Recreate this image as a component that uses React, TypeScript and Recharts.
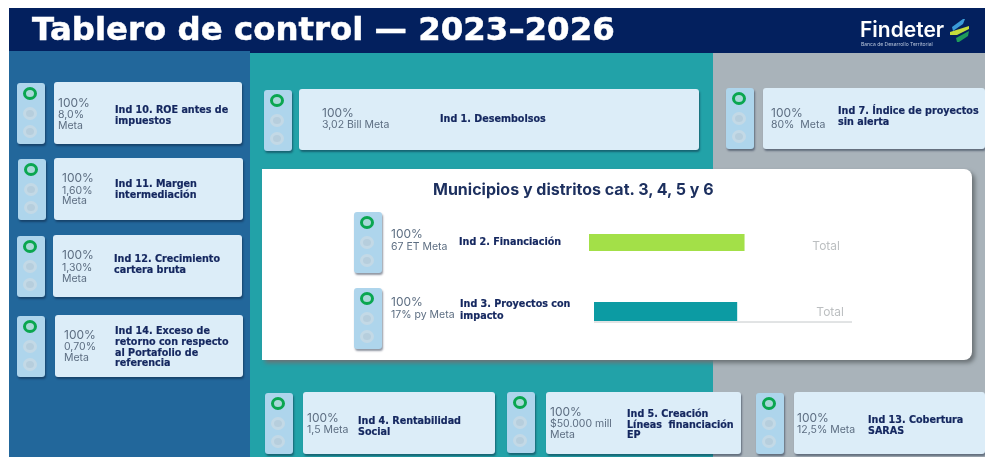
import { BarChart, Bar, XAxis, YAxis } from 'recharts';

const TITLE = 'Tablero de control — 2023–2026';
const PANEL_TITLE = 'Municipios y distritos cat. 3, 4, 5 y 6';

const NAVY = '#03205e';
const INK = '#14275f';
const MUTED = '#5d6e82';
const RING = '#0aa650';
const BOLD_FONT = '"DejaVu Sans"';

// bar values (share of the Total axis)
const barCategories = ['Total'];
const financiacionValues = [61];
const proyectosValues = [55.5];
const AXIS_MAX = 100;

const financiacionData = barCategories.map((name, i) => ({ name, value: financiacionValues[i] }));
const proyectosData = barCategories.map((name, i) => ({ name, value: proyectosValues[i] }));

// text of each indicator
const ind10 = { meta: ['8,0%', 'Meta'], name: ['Ind 10. ROE antes de', 'impuestos'] };
const ind11 = { meta: ['1,60%', 'Meta'], name: ['Ind 11. Margen', 'intermediación'] };
const ind12 = { meta: ['1,30%', 'Meta'], name: ['Ind 12. Crecimiento', 'cartera bruta'] };
const ind14 = {
  meta: ['0,70%', 'Meta'],
  name: ['Ind 14. Exceso de', 'retorno con respecto', 'al Portafolio de', 'referencia'],
};
const ind1 = { meta: ['3,02 Bill Meta'], name: ['Ind 1. Desembolsos'] };
const ind7 = { meta: ['80%  Meta'], name: ['Ind 7. Índice de proyectos', 'sin alerta'] };
const ind2 = { meta: ['67 ET Meta'], name: ['Ind 2. Financiación'] };
const ind3 = { meta: ['17% py Meta'], name: ['Ind 3. Proyectos con', 'impacto'] };
const ind4 = { meta: ['1,5 Meta'], name: ['Ind 4. Rentabilidad', 'Social'] };
const ind5 = { meta: ['$50.000 mill', 'Meta'], name: ['Ind 5. Creación', 'Líneas  financiación', 'EP'] };
const ind13 = { meta: ['12,5% Meta'], name: ['Ind 13. Cobertura', 'SARAS'] };

function Txt({ x, y, size, color, weight, font = 'Inter', stroke = 0, children }: any) {
  const h = Math.ceil(size * 1.05);
  return (
    <div
      style={{
        position: 'absolute',
        left: x,
        top: y - h / 2,
        height: h,
        lineHeight: `${h}px`,
        fontSize: size,
        color,
        fontWeight: weight,
        whiteSpace: 'pre',
        fontFamily: font,
        WebkitTextStroke: stroke ? `${stroke}px ${color}` : undefined,
      }}
    >
      {children}
    </div>
  );
}

function Box({ x, y, w, h, bg, r = 3 }: any) {
  return (
    <div
      style={{
        position: 'absolute',
        left: x,
        top: y,
        width: w,
        height: h,
        background: bg,
        borderRadius: r,
        boxShadow: '1px 2px 2px rgba(10,25,50,0.45)',
      }}
    />
  );
}

function Lights({ x, y }: any) {
  const dots = [10, 30, 48];
  return (
    <>
      <Box x={x} y={y} w={28} h={61} bg="#aed5ec" />
      {dots.map((d, i) => (
        <div
          key={i}
          style={{
            position: 'absolute',
            left: x + 6,
            top: y + d - 6,
            width: 14,
            height: 13,
            boxSizing: 'border-box',
            borderRadius: '50%',
            border: i === 0 ? `3px solid ${RING}` : '3px solid #c3d9e6',
            background: i === 0 ? '#a8d8d8' : '#b6cedd',
          }}
        />
      ))}
    </>
  );
}

// pctY / metaY / nameY are the vertical centres of the lines
function MetaText({ ind, x, pctY, metaY, nameX, nameY }: any) {
  return (
    <>
      <Txt x={x} y={pctY - 1} size={12} color={MUTED} weight={400}>100%</Txt>
      {ind.meta.map((t: string, i: number) => (
        <Txt key={t} x={x} y={metaY[i]} size={10.5} color={MUTED} weight={400}>{t}</Txt>
      ))}
      {ind.name.map((t: string, i: number) => (
        <Txt key={t} x={nameX} y={nameY[i]} size={9.6} color={INK} weight={700} font={BOLD_FONT} stroke={0.2}>{t}</Txt>
      ))}
    </>
  );
}

function Logo() {
  return (
    <>
      <Txt x={860} y={29.5} size={21} color="#ffffff" weight={600}>Findeter</Txt>
      <Txt x={861} y={43.5} size={5} color="#b9c6dc" weight={400}>Banca de Desarrollo Territorial</Txt>
      <svg style={{ position: 'absolute', left: 949, top: 18 }} width={22} height={25}>
        <polygon points="3,9 14,1 16,1 14,6 4,13" fill="#3b9bd8" />
        <polygon points="1,14 20,8 20,11 8,17 1,17" fill="#c5dc3c" />
        <polygon points="7,20 20,13 19,18 10,24 8,24" fill="#1f9a5a" />
      </svg>
    </>
  );
}

export default function App() {
  return (
    <div
      style={{
        position: 'absolute',
        left: 0,
        top: 0,
        width: 985,
        height: 457,
        overflow: 'hidden',
        background: '#ffffff',
        filter: 'blur(0.35px)',
      }}
    >
      {/* background bands */}
      <div style={{ position: 'absolute', left: 9, top: 8, width: 976, height: 45, background: NAVY }} />
      <div style={{ position: 'absolute', left: 9, top: 51, width: 241, height: 406, background: '#22679b' }} />
      <div style={{ position: 'absolute', left: 250, top: 53, width: 463, height: 404, background: '#22a2a8' }} />
      <div style={{ position: 'absolute', left: 713, top: 53, width: 272, height: 404, background: '#a9b3ba' }} />
      <Txt x={32} y={29} size={32.4} color="#ffffff" weight={700} font={BOLD_FONT} stroke={0.5}>{TITLE}</Txt>
      <Logo />

      {/* left column */}
      <Lights x={17} y={83} />
      <Box x={54} y={82} w={188} h={62} bg="#dcedf8" />
      <MetaText ind={ind10} x={58} pctY={103} metaY={[115, 126]} nameX={115} nameY={[109, 120]} />

      <Lights x={18} y={159} />
      <Box x={54} y={158} w={189} h={62} bg="#dcedf8" />
      <MetaText ind={ind11} x={62} pctY={178} metaY={[191, 201]} nameX={115} nameY={[183, 194]} />

      <Lights x={17} y={236} />
      <Box x={53} y={235} w={189} h={62} bg="#dcedf8" />
      <MetaText ind={ind12} x={62} pctY={255} metaY={[268, 279]} nameX={114} nameY={[258, 269]} />

      <Lights x={17} y={316} />
      <Box x={55} y={315} w={188} h={62} bg="#dcedf8" />
      <MetaText ind={ind14} x={64} pctY={335} metaY={[347, 358]} nameX={115} nameY={[330, 341, 352, 362]} />

      {/* top row */}
      <Lights x={264} y={90} />
      <Box x={299} y={89} w={400} h={61} bg="#dcedf8" />
      <MetaText ind={ind1} x={322} pctY={113} metaY={[125]} nameX={440} nameY={[118]} />

      <Lights x={726} y={88} />
      <Box x={763} y={88} w={222} h={61} bg="#dcedf8" />
      <MetaText ind={ind7} x={771} pctY={113} metaY={[125]} nameX={838} nameY={[110, 121]} />

      {/* white panel */}
      <div
        style={{
          position: 'absolute',
          left: 262,
          top: 169,
          width: 710,
          height: 191,
          background: '#ffffff',
          borderRadius: '0 8px 8px 0',
          boxShadow: '3px 3px 4px #6b7276',
        }}
      />
      <Txt x={433} y={189} size={16} color="#1c2f5e" weight={700}>{PANEL_TITLE}</Txt>

      <Lights x={354} y={212} />
      <MetaText ind={ind2} x={391} pctY={234} metaY={[247]} nameX={459} nameY={[241]} />
      <div style={{ position: 'absolute', left: 589, top: 233 }}>
        <BarChart
          width={255}
          height={19}
          layout="vertical"
          data={financiacionData}
          margin={{ top: 0, right: 0, bottom: 0, left: 0 }}
        >
          <XAxis type="number" domain={[0, AXIS_MAX]} hide />
          <YAxis
            type="category"
            dataKey="name"
            orientation="right"
            mirror
            axisLine={false}
            tickLine={false}
            tickSize={0}
            tickMargin={4}
            tick={{ fontSize: 12, fill: '#bcbfc1', fontFamily: 'Inter', dy: 3 }}
          />
          <Bar dataKey="value" fill="#a3e048" barSize={19} isAnimationActive={false} />
        </BarChart>
      </div>

      <Lights x={354} y={288} />
      <MetaText ind={ind3} x={391} pctY={302} metaY={[315]} nameX={460} nameY={[303, 315]} />
      <div style={{ position: 'absolute', left: 594, top: 301 }}>
        <BarChart
          width={258}
          height={22}
          layout="vertical"
          data={proyectosData}
          margin={{ top: 0, right: 0, bottom: 0, left: 0 }}
        >
          <XAxis
            type="number"
            domain={[0, AXIS_MAX]}
            height={1}
            tick={false}
            tickLine={false}
            axisLine={{ stroke: '#c4c8ca' }}
          />
          <YAxis
            type="category"
            dataKey="name"
            orientation="right"
            mirror
            axisLine={false}
            tickLine={false}
            tickSize={0}
            tickMargin={8}
            tick={{ fontSize: 12, fill: '#bcbfc1', fontFamily: 'Inter' }}
          />
          <Bar dataKey="value" fill="#0c9ba3" barSize={21} isAnimationActive={false} />
        </BarChart>
      </div>

      {/* bottom row */}
      <Lights x={265} y={393} />
      <Box x={303} y={392} w={192} h={62} bg="#dcedf8" />
      <MetaText ind={ind4} x={307} pctY={418} metaY={[430]} nameX={358} nameY={[420, 431]} />

      <Lights x={507} y={392} />
      <Box x={546} y={392} w={195} h={62} bg="#dcedf8" />
      <MetaText ind={ind5} x={550} pctY={412} metaY={[424, 435]} nameX={627} nameY={[413, 424, 434]} />

      <Lights x={756} y={393} />
      <Box x={794} y={392} w={191} h={62} bg="#dcedf8" />
      <MetaText ind={ind13} x={797} pctY={418} metaY={[430]} nameX={868} nameY={[419, 430]} />
    </div>
  );
}
